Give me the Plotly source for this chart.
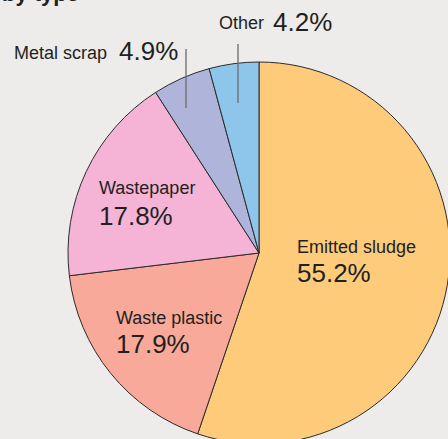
import plotly.graph_objects as go

# Share of waste by type (percent)
categories = ["Emitted sludge", "Waste plastic", "Wastepaper", "Metal scrap", "Other"]
shares = [55.2, 17.9, 17.8, 4.9, 4.2]
colors = ["#FECB7B", "#F8A99A", "#F5B4D5", "#AFB4DA", "#8EC5EA"]

W, H = 452, 446
BG = "#EDECEA"
INK = "#231F20"


def px(x):
    return x / W


def py(y):
    return 1 - y / H


fig = go.Figure(
    go.Pie(
        labels=categories,
        values=shares,
        sort=False,
        direction="clockwise",
        rotation=0,
        marker=dict(colors=colors, line=dict(color="#2b2b2b", width=1)),
        textinfo="none",
        hoverinfo="label+percent",
        showlegend=False,
        domain=dict(x=[px(68), px(450)], y=[py(444), py(62)]),
    )
)

# label anchor positions (pixel space): name line and percent line
label_pos = {
    "Emitted sludge": ((295, 246.5), (295, 272.6)),
    "Waste plastic": ((114, 317.5), (114, 343.6)),
    "Wastepaper": ((97, 188.0), (97, 215.6)),
    "Metal scrap": ((12, 53.5), (117, 50.6)),
    "Other": ((217, 23.5), (271, 21.6)),
}

ann = []
for name, val in zip(categories, shares):
    (nx, ny), (vx, vy) = label_pos[name]
    ann.append(dict(x=px(nx), y=py(ny), xref="paper", yref="paper", text=name,
                    showarrow=False, xanchor="left", yanchor="middle",
                    font=dict(family="Liberation Sans, Arial, sans-serif", size=18, color=INK)))
    ann.append(dict(x=px(vx), y=py(vy), xref="paper", yref="paper", text=f"{val:.1f}%",
                    showarrow=False, xanchor="left", yanchor="middle",
                    font=dict(family="Liberation Sans, Arial, sans-serif", size=26, color=INK)))

# tail of the heading above the chart (only its descenders fall inside the page)
ann.append(dict(x=px(0), y=py(-7), xref="paper", yref="paper", text="<b>by type</b>",
                showarrow=False, xanchor="left", yanchor="middle",
                font=dict(family="Liberation Sans, Arial, sans-serif", size=22, color=INK)))

leader = dict(color="#6b6b6b", width=1.3)
shapes = [
    dict(type="line", xref="paper", yref="paper", x0=px(186), x1=px(186), y0=py(49), y1=py(108), line=leader),
    dict(type="line", xref="paper", yref="paper", x0=px(238), x1=px(238), y0=py(44), y1=py(103), line=leader),
]

fig.update_layout(
    width=W, height=H,
    margin=dict(l=0, r=0, t=0, b=0),
    paper_bgcolor=BG, plot_bgcolor=BG,
    annotations=ann, shapes=shapes,
)

fig.write_html(
    "out.html",
    config={"displayModeBar": False},
    post_script="document.documentElement.style.overflow='hidden';document.body.style.overflow='hidden';document.body.style.margin='0';",
)
